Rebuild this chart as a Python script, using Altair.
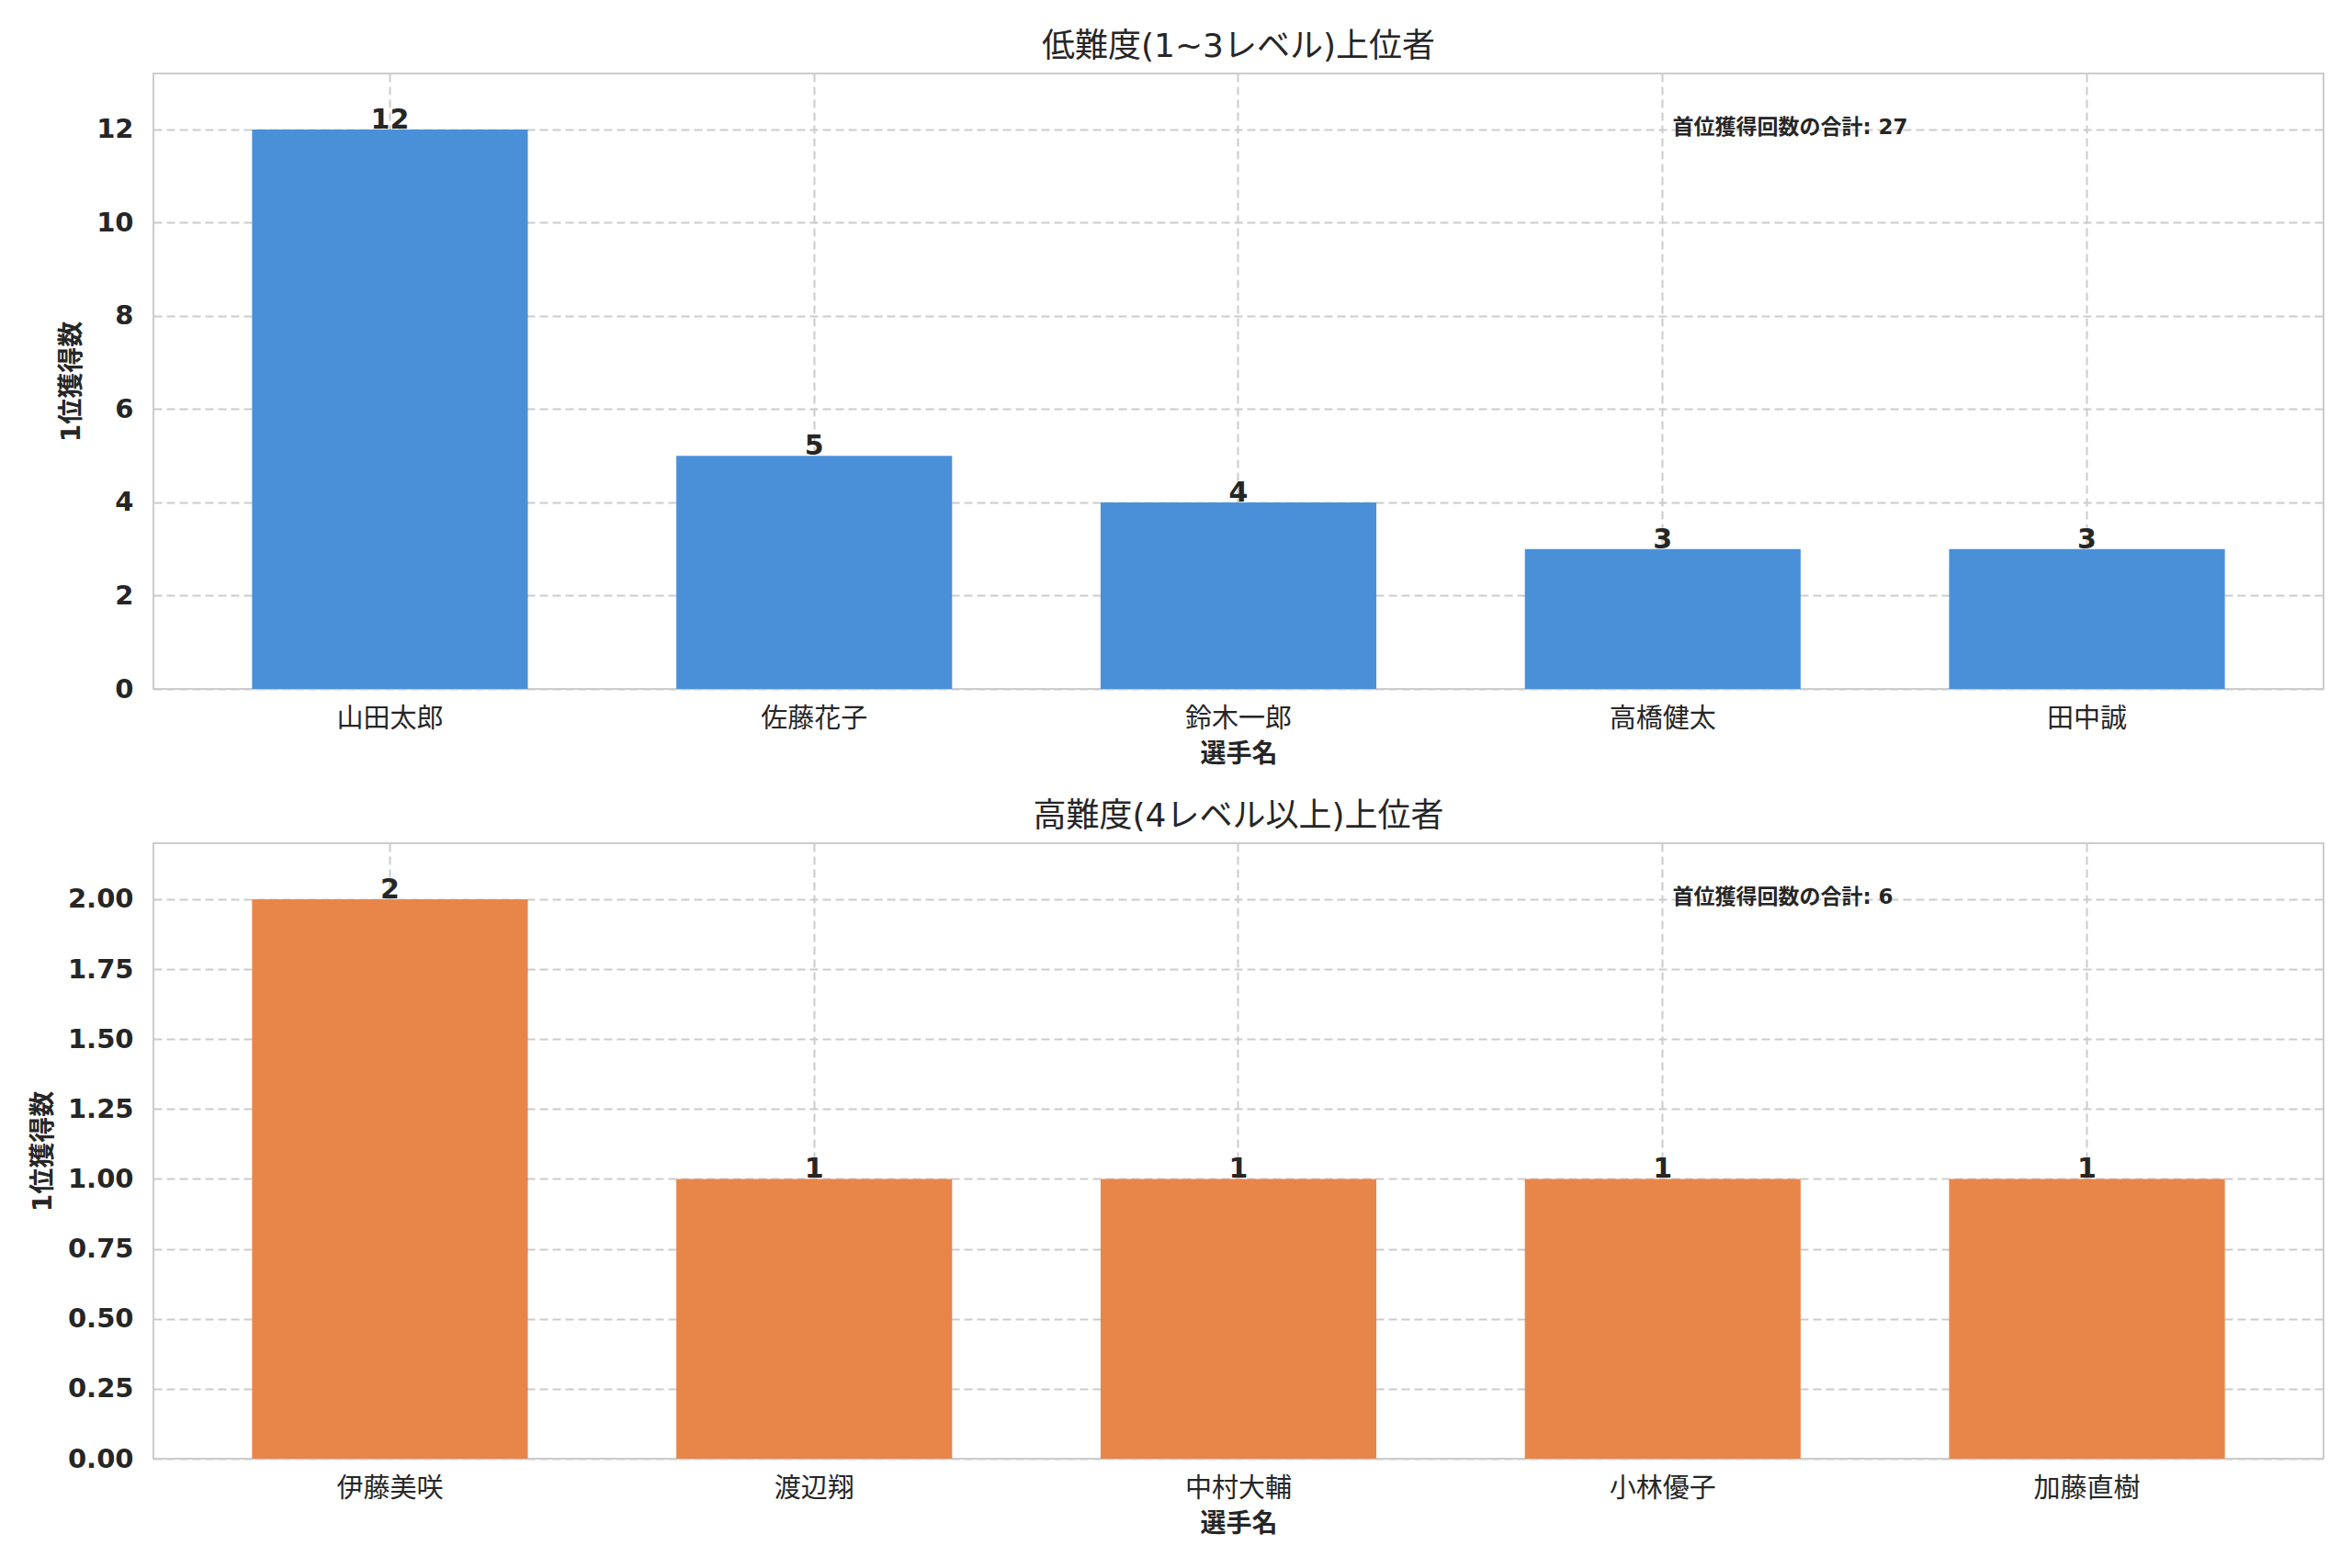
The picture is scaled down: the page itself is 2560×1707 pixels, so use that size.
import altair as alt
import pandas as pd

# ---- data ----
names_low = ["山田太郎", "佐藤花子", "鈴木一郎", "高橋健太", "田中誠"]
wins_low = [12, 5, 4, 3, 3]
names_high = ["伊藤美咲", "渡辺翔", "中村大輔", "小林優子", "加藤直樹"]
wins_high = [2, 1, 1, 1, 1]

title_low = "低難度(1~3レベル)上位者"
title_high = "高難度(4レベル以上)上位者"
x_title = "選手名"
y_title = "1位獲得数"
total_label = "首位獲得回数の合計"

yticks_low = [0, 2, 4, 6, 8, 10, 12]
yticks_high = [0, 0.25, 0.5, 0.75, 1.0, 1.25, 1.5, 1.75, 2.0]

FONT = "DejaVu Sans, Noto Sans CJK JP"
W, H = 2362, 670
DARK = "#262626"


def panel(names, values, color, title, yticks, fmt):
    df = pd.DataFrame({"name": names, "value": values})
    ymax = max(values) * 1.1
    x = alt.X(
        "name:N", sort=None, title=x_title,
        scale=alt.Scale(paddingInner=0.35, paddingOuter=0.2325),
        axis=alt.Axis(labelAngle=0, bandPosition=0.5, labelFontWeight="normal"),
    )
    y = alt.Y(
        "value:Q", title=y_title,
        scale=alt.Scale(domain=[0, ymax], nice=False, zero=True),
        axis=alt.Axis(values=yticks, format=fmt),
    )
    base = alt.Chart(df)
    bars = base.mark_bar(color=color).encode(x=x, y=y)
    labels = base.mark_text(
        baseline="alphabetic", fontSize=30, fontWeight="bold",
        color=DARK, font=FONT, dy=-1,
    ).encode(x=x, y=y, text="value:Q")
    ann_df = pd.DataFrame({"t": [f"{total_label}: {sum(values)}"]})
    ann = alt.Chart(ann_df).mark_text(
        align="left", baseline="middle", fontSize=23, fontWeight="bold",
        color=DARK, font=FONT,
    ).encode(x=alt.value(W * 0.7), y=alt.value(59), text="t:N")
    return alt.layer(bars, labels, ann).properties(
        width=W, height=H,
        title=alt.TitleParams(
            text=title, fontSize=36, font=FONT, fontWeight="normal",
            color=DARK, offset=10, anchor="middle",
        ),
    )


top = panel(names_low, wins_low, "#4a90d9", title_low, yticks_low, "d")
bottom = panel(names_high, wins_high, "#e8864a", title_high, yticks_high, ".2f")

chart = alt.vconcat(top, bottom, spacing=34).properties(
    padding={"left": 24, "top": 24, "right": 20, "bottom": 10},
    background="white",
).configure_axis(
    grid=True, gridColor="#cccccc", gridDash=[9, 5], gridWidth=2,
    domain=False, ticks=False,
    labelFont=FONT, labelFontSize=29, labelFontWeight="bold", labelColor=DARK,
    titleFont=FONT, titleFontSize=28, titleFontWeight="bold", titleColor=DARK,
).configure_axisX(
    labelPadding=18, titlePadding=10,
).configure_axisY(
    labelPadding=22, titlePadding=12,
).configure_view(
    stroke="#cccccc", strokeWidth=2,
)

chart.save("out.html", embed_options={"renderer": "svg", "actions": False})
